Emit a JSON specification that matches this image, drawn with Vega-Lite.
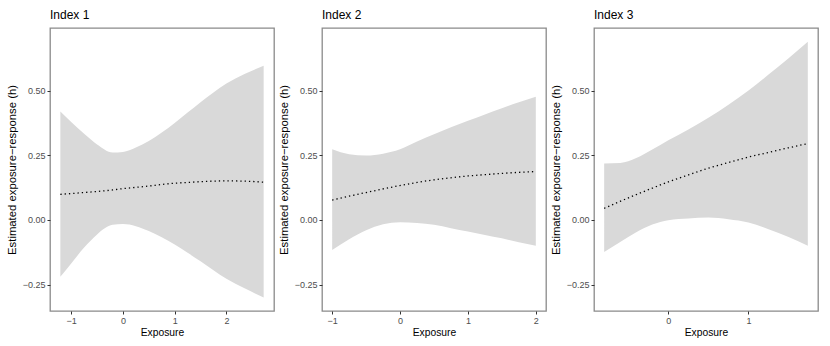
{
  "$schema": "https://vega.github.io/schema/vega-lite/v6.json",
  "padding": {"left": 5, "top": 8, "right": 5, "bottom": 5},
  "spacing": 2,
  "background": "white",
  "config": {
    "font": "Liberation Sans",
    "view": {"stroke": "#8a8a8a", "strokeWidth": 1.3},
    "axis": {"domain": false, "grid": false, "tickColor": "#333333", "tickSize": 3, "labelFont": "Liberation Sans", "labelFontSize": 9, "labelColor": "#4d4d4d", "labelPadding": 2, "titleFont": "Liberation Sans", "titleFontWeight": "normal", "titleColor": "#000000"},
    "axisY": {"titlePadding": 5, "titleFontSize": 11.3},
    "axisX": {"titlePadding": 2, "titleFontSize": 10.3},
    "title": {"font": "Liberation Sans", "fontSize": 12, "fontWeight": "normal", "anchor": "start", "frame": "group", "offset": 6, "color": "#000000"}
  },
  "datasets": {
    "p1": [
      {"x": -1.21, "lo": -0.220, "hi": 0.419, "est": 0.099},
      {"x": -1.0, "lo": -0.168, "hi": 0.379, "est": 0.102},
      {"x": -0.75, "lo": -0.107, "hi": 0.333, "est": 0.106},
      {"x": -0.5, "lo": -0.056, "hi": 0.292, "est": 0.110},
      {"x": -0.2, "lo": -0.019, "hi": 0.261, "est": 0.116},
      {"x": 0.0, "lo": -0.016, "hi": 0.263, "est": 0.121},
      {"x": 0.25, "lo": -0.024, "hi": 0.280, "est": 0.126},
      {"x": 0.5, "lo": -0.043, "hi": 0.305, "est": 0.131},
      {"x": 0.75, "lo": -0.067, "hi": 0.338, "est": 0.137},
      {"x": 1.0, "lo": -0.095, "hi": 0.375, "est": 0.142},
      {"x": 1.25, "lo": -0.127, "hi": 0.415, "est": 0.145},
      {"x": 1.5, "lo": -0.160, "hi": 0.455, "est": 0.148},
      {"x": 1.75, "lo": -0.194, "hi": 0.493, "est": 0.150},
      {"x": 2.0, "lo": -0.227, "hi": 0.527, "est": 0.151},
      {"x": 2.35, "lo": -0.264, "hi": 0.564, "est": 0.150},
      {"x": 2.72, "lo": -0.300, "hi": 0.596, "est": 0.146}
    ],
    "p2": [
      {"x": -1.0, "lo": -0.116, "hi": 0.273, "est": 0.077},
      {"x": -0.75, "lo": -0.075, "hi": 0.254, "est": 0.092},
      {"x": -0.5, "lo": -0.040, "hi": 0.249, "est": 0.106},
      {"x": -0.25, "lo": -0.017, "hi": 0.256, "est": 0.120},
      {"x": 0.0, "lo": -0.009, "hi": 0.273, "est": 0.133},
      {"x": 0.25, "lo": -0.012, "hi": 0.303, "est": 0.145},
      {"x": 0.5, "lo": -0.019, "hi": 0.331, "est": 0.155},
      {"x": 0.75, "lo": -0.032, "hi": 0.358, "est": 0.163},
      {"x": 1.0, "lo": -0.045, "hi": 0.383, "est": 0.170},
      {"x": 1.25, "lo": -0.058, "hi": 0.408, "est": 0.175},
      {"x": 1.5, "lo": -0.071, "hi": 0.432, "est": 0.180},
      {"x": 1.75, "lo": -0.086, "hi": 0.455, "est": 0.184},
      {"x": 2.0, "lo": -0.100, "hi": 0.476, "est": 0.187}
    ],
    "p3": [
      {"x": -0.8, "lo": -0.124, "hi": 0.218, "est": 0.045},
      {"x": -0.6, "lo": -0.085, "hi": 0.220, "est": 0.072},
      {"x": -0.4, "lo": -0.048, "hi": 0.239, "est": 0.098},
      {"x": -0.2, "lo": -0.018, "hi": 0.272, "est": 0.123},
      {"x": 0.0, "lo": -0.001, "hi": 0.308, "est": 0.147},
      {"x": 0.25, "lo": 0.006, "hi": 0.350, "est": 0.174},
      {"x": 0.5, "lo": 0.009, "hi": 0.395, "est": 0.200},
      {"x": 0.75, "lo": 0.003, "hi": 0.445, "est": 0.222},
      {"x": 1.0, "lo": -0.010, "hi": 0.500, "est": 0.243},
      {"x": 1.25, "lo": -0.036, "hi": 0.562, "est": 0.261},
      {"x": 1.5, "lo": -0.066, "hi": 0.625, "est": 0.279},
      {"x": 1.74, "lo": -0.100, "hi": 0.689, "est": 0.295}
    ]
  },
  "hconcat": [
    {
      "title": "Index 1",
      "width": 224, "height": 283,
      "data": {"name": "p1"},
      "layer": [
        {"mark": {"type": "area", "color": "#d9d9d9", "interpolate": "monotone", "opacity": 1},
         "encoding": {
           "x": {"field": "x", "type": "quantitative", "scale": {"domain": [-1.41, 2.92], "nice": false, "zero": false}, "axis": {"values": [-1, 0, 1, 2], "format": "d", "title": "Exposure"}},
           "y": {"field": "lo", "type": "quantitative", "scale": {"domain": [-0.352, 0.742], "nice": false, "zero": false}, "axis": {"values": [-0.25, 0, 0.25, 0.5], "format": ".2f", "title": "Estimated exposure−response (h)"}},
           "y2": {"field": "hi"}}},
        {"mark": {"type": "line", "color": "#000000", "strokeWidth": 1.3, "strokeDash": [1.3, 3], "interpolate": "monotone"},
         "encoding": {
           "x": {"field": "x", "type": "quantitative"},
           "y": {"field": "est", "type": "quantitative"}}}
      ]
    },
    {
      "title": "Index 2",
      "width": 224, "height": 283,
      "data": {"name": "p2"},
      "layer": [
        {"mark": {"type": "area", "color": "#d9d9d9", "interpolate": "monotone", "opacity": 1},
         "encoding": {
           "x": {"field": "x", "type": "quantitative", "scale": {"domain": [-1.15, 2.15], "nice": false, "zero": false}, "axis": {"values": [-1, 0, 1, 2], "format": "d", "title": "Exposure"}},
           "y": {"field": "lo", "type": "quantitative", "scale": {"domain": [-0.352, 0.742], "nice": false, "zero": false}, "axis": {"values": [-0.25, 0, 0.25, 0.5], "format": ".2f", "title": "Estimated exposure−response (h)"}},
           "y2": {"field": "hi"}}},
        {"mark": {"type": "line", "color": "#000000", "strokeWidth": 1.3, "strokeDash": [1.3, 3], "interpolate": "monotone"},
         "encoding": {
           "x": {"field": "x", "type": "quantitative"},
           "y": {"field": "est", "type": "quantitative"}}}
      ]
    },
    {
      "title": "Index 3",
      "width": 224, "height": 283,
      "data": {"name": "p3"},
      "layer": [
        {"mark": {"type": "area", "color": "#d9d9d9", "interpolate": "monotone", "opacity": 1},
         "encoding": {
           "x": {"field": "x", "type": "quantitative", "scale": {"domain": [-0.927, 1.867], "nice": false, "zero": false}, "axis": {"values": [0, 1], "format": "d", "title": "Exposure"}},
           "y": {"field": "lo", "type": "quantitative", "scale": {"domain": [-0.352, 0.742], "nice": false, "zero": false}, "axis": {"values": [-0.25, 0, 0.25, 0.5], "format": ".2f", "title": "Estimated exposure−response (h)"}},
           "y2": {"field": "hi"}}},
        {"mark": {"type": "line", "color": "#000000", "strokeWidth": 1.3, "strokeDash": [1.3, 3], "interpolate": "monotone"},
         "encoding": {
           "x": {"field": "x", "type": "quantitative"},
           "y": {"field": "est", "type": "quantitative"}}}
      ]
    }
  ]
}
